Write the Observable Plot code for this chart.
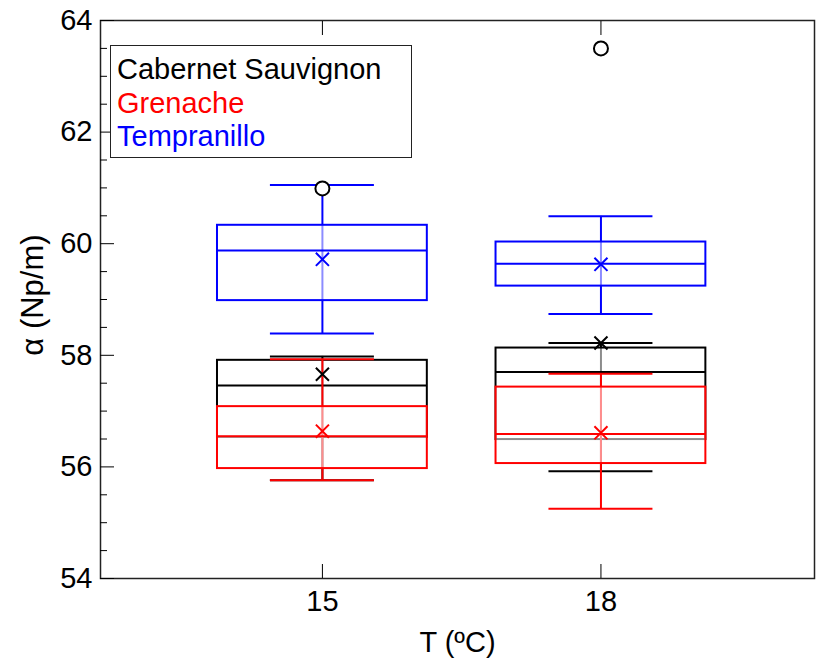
<!DOCTYPE html>
<html>
<head>
<meta charset="utf-8">
<script src="https://cdn.jsdelivr.net/npm/d3@7"></script>
<script src="https://cdn.jsdelivr.net/npm/@observablehq/plot@0.6"></script>
<style>
  html, body { margin: 0; padding: 0; background: #fff; overflow: hidden; }
  #wrap { position: relative; width: 816px; height: 662px; font-family: "Liberation Sans", Arial, sans-serif; }
  #legend { position: absolute; left: 110px; top: 45px; width: 302px; height: 113px; border: 1.5px solid #222; background: #fff; box-sizing: border-box; padding: 7px 0 0 6px; font-size: 29px; line-height: 33.5px; }
</style>
</head>
<body>
<div id="wrap"><div id="chart"></div><div id="legend"></div></div>
<script>
const varieties = ["Cabernet Sauvignon", "Grenache", "Tempranillo"];
const colors = ["#000000", "#ff0000", "#0000ff"];
const temps = [15, 18];
// per variety, values at [15, 18]
const whiskerLow  = [[55.76, 55.92], [55.76, 55.25], [58.39, 58.74]];
const q1          = [[56.53, 56.49], [55.97, 56.06], [58.98, 59.24]];
const median      = [[57.46, 57.70], [56.55, 56.59], [59.88, 59.64]];
const q3          = [[57.91, 58.13], [57.08, 57.43], [60.33, 60.03]];
const whiskerHigh = [[57.98, 58.22], [57.93, 57.67], [61.05, 60.49]];
const means       = [[57.66, 58.22], [56.64, 56.61], [59.72, 59.63]];
const outlierT = [15, 18];
const outlierV = [60.99, 63.50];
const yMajor = [54, 56, 58, 60, 62, 64];
const yMinor = [54.5, 55, 55.5, 56.5, 57, 57.5, 58.5, 59, 59.5, 60.5, 61, 61.5, 62.5, 63, 63.5];

const boxHalf = 1.13, capHalf = 0.56;

const rows = [];
varieties.forEach((v, i) => temps.forEach((t, j) => rows.push({
  variety: v, color: colors[i], T: t,
  lo: whiskerLow[i][j], q1: q1[i][j], med: median[i][j], q3: q3[i][j], hi: whiskerHigh[i][j], mean: means[i][j]
})));
const outliers = outlierT.map((t, i) => ({T: t, v: outlierV[i]}));

const marks = [];
varieties.forEach((v, i) => {
  const d = rows.filter(r => r.variety === v);
  const c = colors[i];
  marks.push(
    Plot.ruleX(d, {x: "T", y1: "lo", y2: "hi", stroke: c, strokeWidth: 2}),
    Plot.rect(d, {x1: r => r.T - boxHalf, x2: r => r.T + boxHalf, y1: "q1", y2: "q3", fill: "white", fillOpacity: 0.55, stroke: c, strokeWidth: 2}),
    Plot.ruleY(d, {y: "med", x1: r => r.T - boxHalf, x2: r => r.T + boxHalf, stroke: c, strokeWidth: 2}),
    Plot.ruleY(d, {y: "lo", x1: r => r.T - capHalf, x2: r => r.T + capHalf, stroke: c, strokeWidth: 2}),
    Plot.ruleY(d, {y: "hi", x1: r => r.T - capHalf, x2: r => r.T + capHalf, stroke: c, strokeWidth: 2})
  );
});
varieties.forEach((v, i) => {
  const d = rows.filter(r => r.variety === v);
  marks.push(Plot.dot(d, {x: "T", y: "mean", symbol: "times", r: 6, stroke: colors[i], strokeWidth: 2}));
});
marks.push(Plot.dot(outliers, {x: "T", y: "v", r: 7, stroke: "black", fill: "white", strokeWidth: 2}));

marks.push(
  Plot.frame({stroke: "#222", strokeWidth: 1.5}),
  Plot.axisY({ticks: yMinor, tickSize: -7, text: null, label: null, strokeWidth: 1}),
  Plot.axisY({ticks: yMajor, tickSize: -14, text: null, label: null, strokeWidth: 1}),
  Plot.axisY({ticks: yMajor, tickSize: 0, tickPadding: 8, label: null, fontSize: 29}),
  Plot.axisX({ticks: temps, tickSize: -14, text: null, label: null, anchor: "bottom"}),
  Plot.axisX({ticks: temps, tickSize: -14, text: null, label: null, anchor: "top"}),
  Plot.axisX({ticks: temps, tickSize: 0, tickPadding: 12, label: null, anchor: "bottom", fontSize: 29}),
  Plot.text(["T (ºC)"], {frameAnchor: "bottom", dy: 73, fontSize: 29, text: d => d, lineAnchor: "bottom"})
);

const chart = Plot.plot({
  width: 816, height: 662,
  marginLeft: 100, marginRight: 2, marginTop: 20, marginBottom: 84,
  style: {fontFamily: "'Liberation Sans', Arial, sans-serif", color: "black", background: "white", overflow: "visible"},
  x: {domain: [12.61, 20.3]},
  y: {domain: [54, 64]},
  marks
});
document.getElementById("chart").appendChild(chart);

const svg = d3.select(chart);
// enforce tick label size
svg.selectAll('g[aria-label$="tick label"]').attr("font-size", 29).style("font-size", "29px");

// rotated y label
svg.append("text").attr("transform", "translate(35,295) rotate(-90)")
  .attr("text-anchor", "middle").attr("dominant-baseline", "middle")
  .attr("font-size", 31).attr("fill", "black").text("α (Np/m)");

const legend = document.getElementById("legend");
varieties.forEach((v, i) => {
  const el = document.createElement("div");
  el.textContent = v; el.style.color = colors[i];
  legend.appendChild(el);
});
</script>
</body>
</html>
